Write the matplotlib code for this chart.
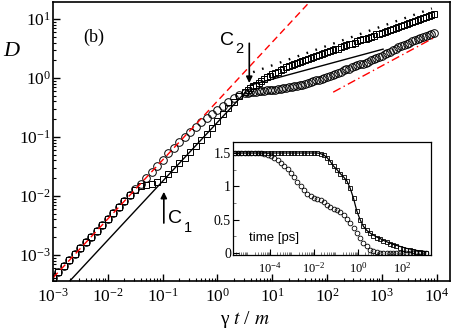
import matplotlib.pyplot as plt
import numpy as np
from matplotlib.ticker import LogLocator, FixedLocator, FuncFormatter, NullFormatter

plt.rcParams['font.family'] = ['Liberation Serif', 'DejaVu Serif']
plt.rcParams['mathtext.fontset'] = 'stix'

# main panel, values as log10
log_t = [-3.0, -2.9, -2.8, -2.7, -2.6, -2.5, -2.4, -2.3, -2.2, -2.1,
         -2.0, -1.9, -1.8, -1.7, -1.6, -1.5, -1.4, -1.3, -1.2, -1.1,
         -1.0, -0.9, -0.8, -0.7, -0.6, -0.5, -0.4, -0.3, -0.2, -0.1,
         0.0, 0.1, 0.2, 0.3, 0.4,
         0.5, 0.55, 0.6, 0.65, 0.7, 0.75, 0.8, 0.85, 0.9, 0.95,
         1.0, 1.05, 1.1, 1.15, 1.2, 1.25, 1.3, 1.35, 1.4, 1.45,
         1.5, 1.55, 1.6, 1.65, 1.7, 1.75, 1.8, 1.85, 1.9, 1.95,
         2.0, 2.05, 2.1, 2.15, 2.2, 2.25, 2.3, 2.35, 2.4, 2.45,
         2.5, 2.55, 2.6, 2.65, 2.7, 2.75, 2.8, 2.85, 2.9, 2.95,
         3.0, 3.05, 3.1, 3.15, 3.2, 3.25, 3.3, 3.35, 3.4, 3.45,
         3.5, 3.55, 3.6, 3.65, 3.7, 3.75, 3.8, 3.85, 3.9, 3.95]
circ_logD = [-3.39, -3.29, -3.19, -3.09, -2.99, -2.89, -2.79, -2.69, -2.59, -2.49,
             -2.39, -2.29, -2.19, -2.09, -1.99, -1.89, -1.79, -1.69, -1.59, -1.49,
             -1.39, -1.28, -1.18, -1.09, -1.00, -0.91, -0.83, -0.75, -0.68, -0.61,
             -0.54, -0.47, -0.40, -0.34, -0.29,
             -0.26, -0.25, -0.24, -0.235, -0.23, -0.225, -0.22, -0.215, -0.21, -0.205,
             -0.20, -0.195, -0.19, -0.18, -0.17, -0.165, -0.16, -0.15, -0.14, -0.13,
             -0.12, -0.11, -0.10, -0.085, -0.07, -0.055, -0.04, -0.025, -0.01, 0.005,
             0.02, 0.035, 0.05, 0.07, 0.09, 0.11, 0.13, 0.145, 0.16, 0.18,
             0.20, 0.215, 0.23, 0.245, 0.26, 0.28, 0.30, 0.32, 0.34, 0.36,
             0.38, 0.40, 0.42, 0.445, 0.47, 0.495, 0.52, 0.54, 0.56, 0.58,
             0.60, 0.62, 0.64, 0.66, 0.68, 0.695, 0.71, 0.73, 0.75, 0.77]
sq_logD = [-3.39, -3.29, -3.19, -3.09, -2.99, -2.89, -2.79, -2.69, -2.59, -2.49,
           -2.39, -2.29, -2.19, -2.09, -1.99, -1.90, -1.84, -1.81, -1.79, -1.76,
           -1.71, -1.63, -1.54, -1.45, -1.35, -1.25, -1.15, -1.05, -0.95, -0.84,
           -0.73, -0.61, -0.50, -0.40, -0.31,
           -0.23, -0.20, -0.17, -0.14, -0.11, -0.08, -0.05, -0.02, 0.01, 0.035,
           0.06, 0.085, 0.11, 0.135, 0.16, 0.18, 0.20, 0.215, 0.23, 0.25,
           0.27, 0.285, 0.30, 0.32, 0.34, 0.355, 0.37, 0.385, 0.40, 0.42,
           0.44, 0.455, 0.47, 0.485, 0.50, 0.52, 0.54, 0.555, 0.57, 0.585,
           0.60, 0.62, 0.64, 0.655, 0.67, 0.685, 0.70, 0.72, 0.74, 0.755,
           0.77, 0.785, 0.80, 0.82, 0.84, 0.855, 0.87, 0.885, 0.90, 0.92,
           0.94, 0.955, 0.97, 0.985, 1.00, 1.02, 1.04, 1.055, 1.07, 1.09]

# guide lines (end points, log10)
ballistic_t, ballistic_D = [-3.0, 2.0], [-3.39, 1.61]
fit1_t, fit1_D = [-2.75, 0.5], [-3.50, -0.25]
fit2_t, fit2_D = [0.6, 3.02], [-0.12, 0.49]
dotted_t, dotted_D = [0.65, 3.91], [0.10, 1.18]
half_t, half_D = [2.11, 3.96], [-0.24, 0.69]

# inset: log10 time [ps] and curves
in_log_time = [-5.6, -5.45, -5.3, -5.15, -5.0, -4.85, -4.7, -4.55, -4.4, -4.25,
               -4.1, -3.95, -3.8, -3.65, -3.5, -3.35, -3.2, -3.05, -2.9, -2.75,
               -2.6, -2.45, -2.3, -2.15, -2.0, -1.85, -1.7, -1.55, -1.4, -1.25,
               -1.1, -0.95, -0.8, -0.65, -0.5, -0.35, -0.2, -0.05, 0.1, 0.25,
               0.4, 0.55, 0.7, 0.85, 1.0, 1.15, 1.3, 1.45, 1.6, 1.75,
               1.9, 2.05, 2.2, 2.35, 2.5, 2.65, 2.8, 2.95, 3.1]
in_circ = [1.50, 1.50, 1.50, 1.50, 1.50, 1.50, 1.50, 1.50, 1.50, 1.49,
           1.47, 1.45, 1.42, 1.39, 1.35, 1.31, 1.26, 1.20, 1.14, 1.07,
           1.01, 0.94, 0.89, 0.85, 0.83, 0.81, 0.79, 0.76, 0.72, 0.69,
           0.66, 0.64, 0.61, 0.57, 0.51, 0.45, 0.38, 0.30, 0.22, 0.15,
           0.10, 0.05, 0.025, 0.012, 0.005, 0.0, 0.0, 0.0, 0.0, 0.0,
           0.0, 0.0, 0.0, 0.0, 0.0, 0.0, 0.0, 0.0, 0.0]
in_sq = [1.50, 1.50, 1.50, 1.50, 1.50, 1.50, 1.50, 1.50, 1.50, 1.50,
         1.50, 1.50, 1.50, 1.50, 1.50, 1.50, 1.50, 1.50, 1.50, 1.50,
         1.50, 1.50, 1.50, 1.50, 1.50, 1.50, 1.49, 1.47, 1.43, 1.37,
         1.30, 1.25, 1.19, 1.14, 1.08, 0.97, 0.82, 0.63, 0.50, 0.40,
         0.34, 0.30, 0.26, 0.23, 0.21, 0.18, 0.16, 0.14, 0.12, 0.10,
         0.08, 0.065, 0.05, 0.04, 0.03, 0.02, 0.012, 0.006, 0.0]
in_fit = [1.50, 1.50, 1.50, 1.50, 1.50, 1.50, 1.50, 1.50, 1.50, 1.50,
          1.50, 1.50, 1.50, 1.50, 1.50, 1.50, 1.50, 1.50, 1.50, 1.50,
          1.50, 1.50, 1.50, 1.50, 1.50, 1.50, 1.49, 1.47, 1.43, 1.37,
          1.30, 1.25, 1.19, 1.14, 1.08, 0.97, 0.82, 0.63, 0.50, 0.40,
          0.34, 0.30, 0.27, 0.24, 0.22, 0.19, 0.17, 0.15, 0.13, 0.115,
          0.10, 0.085, 0.07, 0.06, 0.05, 0.04, 0.03, 0.025, 0.02]

p = lambda v: 10 ** np.array(v)

fig = plt.figure(figsize=(4.52, 3.36), dpi=100)
ax = fig.add_axes([53/452, 55/336, 397/452, 279/336])

ax.plot(p(log_t), p(sq_logD), 's', ms=4.8, mfc='none', mec='k', mew=0.7)
ax.plot(p(log_t), p(circ_logD), 'o', ms=5.5, mfc='none', mec='k', mew=0.7)
ax.plot(p(ballistic_t), p(ballistic_D), color='red', lw=1.0, dashes=(5, 3))
ax.plot(p(fit1_t), p(fit1_D), color='k', lw=1.0)
ax.plot(p(fit2_t), p(fit2_D), color='k', lw=1.0)
ax.plot(p(dotted_t), p(dotted_D), color='k', lw=1.7, dashes=(0.7, 3.3))
ax.plot(p(half_t), p(half_D), color='red', lw=1.0, dashes=(6, 2.5, 1, 2.5))

ax.set_xscale('log')
ax.set_yscale('log')
ax.set_xlim(1e-3, 1.74e4)
ax.set_ylim(3.6e-4, 19.5)
ax.xaxis.set_major_locator(FixedLocator([1e-3, 1e-2, 1e-1, 1e0, 1e1, 1e2, 1e3, 1e4]))
ax.yaxis.set_major_locator(FixedLocator([1e-3, 1e-2, 1e-1, 1e0, 1e1]))
ax.xaxis.set_minor_locator(LogLocator(base=10, subs=np.arange(2, 10), numticks=50))
ax.yaxis.set_minor_locator(LogLocator(base=10, subs=np.arange(2, 10), numticks=50))
ax.xaxis.set_minor_formatter(NullFormatter())
ax.yaxis.set_minor_formatter(NullFormatter())
ax.tick_params(which='both', direction='in', top=False, right=False, labelsize=12.5)
ax.tick_params(which='major', length=5, width=1)
ax.tick_params(which='minor', length=2.5, width=0.8)
ax.tick_params(axis='x', pad=5)
ax.tick_params(axis='y', pad=1.5)
for s in ax.spines.values():
    s.set_linewidth(1.2)

# arrows and labels
ax.annotate('', xy=(0.105, 10**-1.93), xytext=(0.105, 10**-2.46),
            arrowprops=dict(arrowstyle='-|>', color='k', lw=1.2, mutation_scale=9,
                            shrinkA=0, shrinkB=0))
ax.annotate('', xy=(3.8, 10**-0.085), xytext=(3.8, 10**0.59),
            arrowprops=dict(arrowstyle='-|>', color='k', lw=1.2, mutation_scale=9,
                            shrinkA=0, shrinkB=0))
fig.text(168/452, 1 - 223/336, 'C', family='Liberation Sans', fontsize=14, va='baseline')
fig.text(184/452, 1 - 232/336, '1', family='Liberation Sans', fontsize=10.5, va='baseline')
fig.text(220/452, 1 - 45/336, 'C', family='Liberation Sans', fontsize=14, va='baseline')
fig.text(235/452, 1 - 53/336, '2', family='Liberation Sans', fontsize=10.5, va='baseline')
fig.text(83/452, 1 - 42/336, '(b)', fontsize=13, va='baseline')
fig.text(11/452, 1 - 52/336, 'D', fontsize=16, style='italic', ha='center', va='center')
fig.text(245/452, 1 - 320/336, 'γ $t$ / $m$', fontsize=14, ha='center', va='center')

# inset
ins = fig.add_axes([233/452, 81/336, 198/452, 113/336])
ins.plot(p(in_log_time), in_fit, color='k', lw=0.9)
ins.plot(p(in_log_time), in_sq, 's', ms=2.8, mfc='none', mec='k', mew=0.6)
ins.plot(p(in_log_time), in_circ, 'o', ms=3.4, mfc='none', mec='k', mew=0.6)
ins.set_xscale('log')
ins.set_xlim(2.1e-6, 2.1e3)
ins.set_ylim(-0.03, 1.665)
ins.xaxis.set_major_locator(FixedLocator([1e-4, 1e-2, 1e0, 1e2]))
ins.xaxis.set_minor_locator(LogLocator(base=10, subs=np.arange(2, 10), numticks=50))
ins.xaxis.set_minor_formatter(NullFormatter())
ins.yaxis.set_major_locator(FixedLocator([0, 0.5, 1, 1.5]))
ins.yaxis.set_minor_locator(FixedLocator([0.25, 0.75, 1.25]))
ins.yaxis.set_major_formatter(FuncFormatter(lambda v, pos: '%g' % v))
ins.tick_params(which='both', direction='in', top=False, right=False)
ins.tick_params(which='major', length=4, width=0.8)
ins.tick_params(which='minor', length=2.5, width=0.6, color='0.4')
ins.tick_params(axis='x', labelsize=9, pad=4)
ins.tick_params(axis='y', labelsize=10, pad=1.5)
for s in ins.spines.values():
    s.set_linewidth(0.9)
ins.text(0.08, 0.12, 'time [ps]', transform=ins.transAxes, family='Liberation Sans',
         fontsize=9.5, va='baseline')

fig.savefig('out.png', dpi=100)
